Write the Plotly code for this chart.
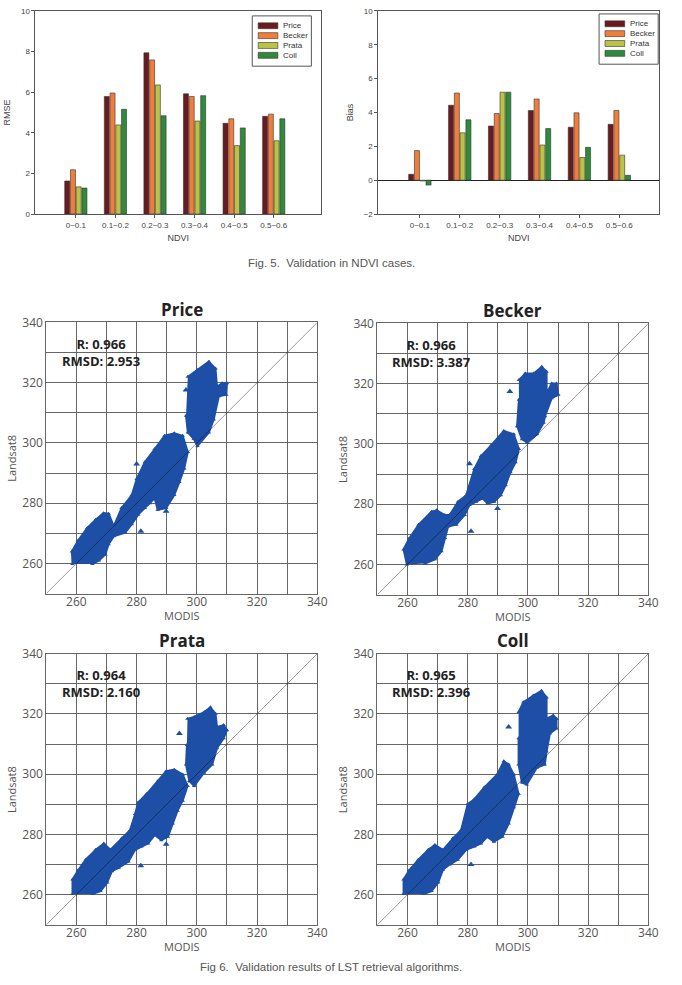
import plotly.graph_objects as go

W, H = 682, 985

# ---------------- data: Fig. 5 ----------------
ndvi_classes = ["0~0.1", "0.1~0.2", "0.2~0.3", "0.3~0.4", "0.4~0.5", "0.5~0.6"]
series_names = ["Price", "Becker", "Prata", "Coll"]
rmse_price = [1.63, 5.79, 7.94, 5.92, 4.47, 4.81]
rmse_becker = [2.18, 5.96, 7.59, 5.79, 4.69, 4.92]
rmse_prata = [1.34, 4.39, 6.36, 4.58, 3.37, 3.61]
rmse_coll = [1.28, 5.16, 4.84, 5.83, 4.24, 4.69]
bias_price = [0.35, 4.43, 3.20, 4.12, 3.13, 3.30]
bias_becker = [1.75, 5.15, 3.94, 4.80, 3.98, 4.12]
bias_prata = [-0.05, 2.80, 5.20, 2.08, 1.34, 1.48]
bias_coll = [-0.29, 3.57, 5.20, 3.05, 1.94, 0.29]

# ---------------- data: Fig. 6 (cloud outlines) ----------------
scatter_ticks = [250, 260, 270, 280, 290, 300, 310, 320, 330, 340]
scatter_ticktext = ["", "260", "", "280", "", "300", "", "320", "", "340"]

price_low_x = [258.7, 258.5, 260.5, 263.6, 266.4, 269.0, 270.7, 272.4, 275.0, 278.4, 280.0, 282.7, 286.0, 289.3, 292.5,
               295.3, 297.0, 295.8, 294.2, 292.5, 289.8, 287.0, 286.0, 284.5, 282.7, 280.5, 278.4, 276.2, 272.4, 270.7,
               269.6, 267.5, 265.3]
price_low_y = [259.8, 264.0, 267.5, 271.8, 274.5, 276.7, 276.5, 272.4, 278.4, 282.7, 288.0, 293.6, 298.0, 302.4, 303.2,
               302.4, 297.0, 291.5, 287.0, 282.7, 278.4, 277.8, 281.6, 280.0, 278.4, 276.2, 273.0, 270.2, 269.0, 266.4,
               263.0, 261.0, 259.8]
price_up_x = [297.0, 300.2, 304.0, 306.2, 306.7, 308.4, 310.0, 309.8, 307.3, 305.6, 304.0, 300.2, 299.0, 297.0, 296.4]
price_up_y = [322.0, 324.2, 327.0, 324.7, 318.7, 319.8, 319.8, 316.0, 315.5, 307.8, 303.5, 299.0, 301.3, 303.5, 309.0]
price_out_x = [296.4, 281.4, 289.8, 280.0]
price_out_y = [317.6, 270.7, 277.3, 293.0]

becker_low_x = [259.8, 258.7, 260.5, 263.7, 268.0, 269.7, 272.4, 274.0, 276.8, 279.5, 282.2, 284.4, 287.7, 292.0, 295.3,
                297.0, 295.9, 294.2, 292.6, 291.0, 288.8, 286.6, 285.0, 282.8, 280.6, 279.0, 276.2, 273.5, 272.4, 271.3,
                269.1, 265.8]
becker_low_y = [260.0, 265.0, 268.5, 273.2, 277.5, 278.0, 276.4, 276.4, 280.8, 283.0, 291.7, 296.0, 299.4, 304.3, 303.2,
                298.3, 293.9, 290.6, 286.3, 283.0, 280.8, 280.3, 281.9, 280.8, 279.7, 276.4, 273.2, 272.6, 268.8, 264.4,
                261.7, 260.3]
becker_up_x = [297.0, 299.1, 301.9, 304.6, 306.2, 306.2, 307.9, 309.5, 310.1, 307.9, 305.7, 305.2, 303.0, 299.7, 298.0,
               296.4, 297.0]
becker_up_y = [321.2, 323.4, 323.4, 325.6, 324.0, 316.8, 320.1, 320.1, 316.3, 315.2, 309.2, 307.0, 303.2, 300.5, 301.6,
               305.9, 314.7]
becker_out_x = [294.0, 289.9, 281.1, 280.6]
becker_out_y = [317.4, 278.6, 271.0, 293.4]

prata_low_x = [258.7, 258.7, 260.5, 263.1, 266.4, 269.1, 271.3, 275.1, 277.8, 279.5, 280.5, 283.3, 287.1, 289.8, 292.5,
               295.3, 296.9, 295.3, 293.6, 292.0, 290.4, 288.2, 286.0, 283.8, 281.6, 279.5, 277.3, 274.0, 271.8, 270.2,
               268.0, 265.3]
prata_low_y = [260.2, 265.0, 268.0, 271.6, 274.9, 277.0, 274.9, 278.7, 281.4, 286.8, 290.6, 293.4, 297.7, 301.0, 301.5,
               299.9, 296.1, 291.2, 287.9, 283.6, 279.2, 278.1, 279.8, 277.0, 276.0, 274.9, 271.0, 268.9, 267.8, 264.0,
               261.2, 260.2]
prata_up_x = [296.9, 299.1, 302.4, 304.5, 306.2, 306.7, 308.9, 310.0, 308.9, 306.7, 305.1, 302.4, 299.1, 297.5, 296.4,
              296.7]
prata_up_y = [318.4, 319.0, 320.6, 322.2, 320.1, 315.7, 316.3, 314.6, 311.9, 308.6, 303.2, 300.5, 296.1, 297.7, 303.2,
              309.7]
prata_out_x = [294.2, 281.4, 289.8]
prata_out_y = [313.5, 269.6, 276.7]

coll_low_x = [258.7, 258.7, 260.5, 263.6, 266.9, 269.1, 271.8, 275.1, 277.8, 280.0, 282.2, 285.5, 289.8, 292.0, 293.6,
              295.3, 296.9, 295.3, 293.6, 291.5, 288.7, 286.5, 284.4, 282.2, 279.5, 276.7, 274.0, 271.8, 270.2, 268.0,
              265.3]
coll_low_y = [260.2, 265.0, 268.0, 271.6, 274.9, 276.5, 274.9, 278.7, 281.4, 290.1, 291.7, 295.6, 299.9, 304.3, 303.2,
              299.9, 293.4, 289.0, 283.6, 279.2, 277.6, 279.2, 277.0, 276.0, 274.9, 271.6, 270.0, 268.3, 264.0, 261.2,
              260.2]
coll_up_x = [296.9, 298.5, 301.8, 304.5, 306.2, 306.2, 308.4, 309.5, 309.5, 307.3, 306.2, 305.6, 302.9, 299.6, 298.0,
             296.9, 296.9]
coll_up_y = [320.6, 323.9, 326.1, 327.7, 325.5, 318.4, 319.5, 318.4, 315.2, 313.5, 307.5, 303.2, 302.1, 296.6, 297.2,
             303.2, 311.9]
coll_out_x = [293.6, 281.1]
coll_out_y = [315.7, 270.0]

panel_titles = ["Price", "Becker", "Prata", "Coll"]
panel_r = ["0.966", "0.966", "0.964", "0.965"]
panel_rmsd = ["2.953", "3.387", "2.160", "2.396"]

# ---------------- styling ----------------
bar_colors = ["#6b1a1f", "#f07e3a", "#bcc244", "#2f8a3c"]
cloud_color = "#1e4fa6"
gray_txt = "#555555"


def xd(px0, px1):
    return [px0 / W, px1 / W]


def yd(py0, py1):
    return [1 - py1 / H, 1 - py0 / H]


def px(v):
    return v / W


def py(v):
    return 1 - v / H


fig = go.Figure()

rmse_all = [rmse_price, rmse_becker, rmse_prata, rmse_coll]
bias_all = [bias_price, bias_becker, bias_prata, bias_coll]
xpos = list(range(len(ndvi_classes)))

for i, name in enumerate(series_names):
    fig.add_trace(go.Bar(x=xpos, y=rmse_all[i], name=name, marker_color=bar_colors[i],
                         marker_line=dict(color="#333333", width=0.6), xaxis="x", yaxis="y",
                         showlegend=False, offsetgroup=str(i)))
for i, name in enumerate(series_names):
    fig.add_trace(go.Bar(x=xpos, y=bias_all[i], name=name, marker_color=bar_colors[i],
                         marker_line=dict(color="#333333", width=0.6), xaxis="x2", yaxis="y2",
                         showlegend=False, offsetgroup=str(i)))

clouds = [
    (price_low_x, price_low_y, price_up_x, price_up_y, price_out_x, price_out_y),
    (becker_low_x, becker_low_y, becker_up_x, becker_up_y, becker_out_x, becker_out_y),
    (prata_low_x, prata_low_y, prata_up_x, prata_up_y, prata_out_x, prata_out_y),
    (coll_low_x, coll_low_y, coll_up_x, coll_up_y, coll_out_x, coll_out_y),
]
for k, (lx, ly, ux, uy, ox, oy) in enumerate(clouds):
    ax = str(k + 3)
    for cx, cy in ((lx, ly), (ux, uy)):
        fig.add_trace(go.Scatter(x=cx, y=cy, fill="toself", fillcolor=cloud_color, mode="lines+markers",
                                 line=dict(color=cloud_color, width=2),
                                 marker=dict(symbol="triangle-up", size=4, color=cloud_color),
                                 xaxis="x" + ax, yaxis="y" + ax, showlegend=False, hoverinfo="skip"))
    fig.add_trace(go.Scatter(x=ox, y=oy, mode="markers",
                             marker=dict(symbol="triangle-up", size=6, color=cloud_color),
                             xaxis="x" + ax, yaxis="y" + ax, showlegend=False, hoverinfo="skip"))

layout = dict(
    width=W, height=H, margin=dict(l=0, r=0, t=0, b=0),
    paper_bgcolor="white", plot_bgcolor="white", showlegend=False,
    barmode="group", bargap=0.42, bargroupgap=0.13,
    font=dict(family="Liberation Sans, Arial", color="#333"),
)

bar_x_common = dict(tickvals=xpos, ticktext=ndvi_classes, showgrid=False, zeroline=False,
                    showline=True, mirror=True, linecolor="#555", linewidth=1,
                    ticks="outside", ticklen=3, tickcolor="#555",
                    tickfont=dict(size=8, color="#444"),
                    title=dict(text="NDVI", font=dict(size=9, color="#444"), standoff=6))
bar_y_common = dict(showgrid=False, showline=True, mirror=True, linecolor="#555", linewidth=1,
                    ticks="outside", ticklen=3, tickcolor="#555", tickfont=dict(size=8, color="#444"))

layout["xaxis"] = dict(domain=xd(36, 326), anchor="y", range=[-1.02, 6.2], **bar_x_common)
layout["yaxis"] = dict(domain=yd(2, 208), anchor="x", range=[0, 10], dtick=2, zeroline=False,
                       title=dict(text="RMSE", font=dict(size=9, color="#444"), standoff=8), **bar_y_common)
layout["xaxis2"] = dict(domain=xd(384, 669), anchor="y2", range=[-1.04, 6.0], **bar_x_common)
layout["yaxis2"] = dict(domain=yd(2, 208), anchor="x2", range=[-2, 10], dtick=2, zeroline=True,
                        zerolinecolor="#222", zerolinewidth=1,
                        title=dict(text="Bias", font=dict(size=9, color="#444"), standoff=8), **bar_y_common)

annotations = []
shapes = []

# hand-drawn legends (compact, as in the reference)
legend_boxes = [(256, 316, 7, 58, [17, 27, 37, 47]), (608, 668, 5, 56, [15, 25, 35, 45])]
for (bx0, bx1, by0, by1, rows) in legend_boxes:
    shapes.append(dict(type="rect", xref="paper", yref="paper", x0=px(bx0), x1=px(bx1), y0=py(by1), y1=py(by0),
                       line=dict(color="#555", width=1), fillcolor="white", layer="above"))
    for i, name in enumerate(series_names):
        r = rows[i]
        shapes.append(dict(type="rect", xref="paper", yref="paper", x0=px(bx0 + 6), x1=px(bx0 + 26),
                           y0=py(r + 3), y1=py(r - 3), fillcolor=bar_colors[i],
                           line=dict(color="#333", width=0.6), layer="above"))
        annotations.append(dict(text=name, x=px(bx0 + 29), y=py(r), xref="paper", yref="paper", showarrow=False,
                                xanchor="left", yanchor="middle", font=dict(size=8, color="#333")))

panels = [(47, 322, 318, 593), (383, 658, 319, 594), (47, 322, 654, 929), (383, 658, 654, 929)]
for k, (x0, x1, y0, y1) in enumerate(panels):
    n = str(k + 3)
    common = dict(range=[250, 340], tickvals=scatter_ticks, ticktext=scatter_ticktext, showgrid=True,
                  gridcolor="#666", gridwidth=1, zeroline=False, showline=True, mirror=True,
                  linecolor="#666", linewidth=1, ticks="", tickfont=dict(size=12, color=gray_txt,
                                                                           family="Open Sans"))
    layout["xaxis" + n] = dict(domain=xd(x0, x1), anchor="y" + n, ticklabelstandoff=-3, **common)
    layout["yaxis" + n] = dict(domain=yd(y0, y1), anchor="x" + n, **common)
    shapes.append(dict(type="line", xref="x" + n, yref="y" + n, x0=250, y0=250, x1=340, y1=340,
                       line=dict(color="rgba(0,0,0,0.4)", width=1), layer="above"))
    annotations.append(dict(text="<b>%s</b>" % panel_titles[k], x=px((x0 + x1) / 2), y=py(y0 - 13),
                            xref="paper", yref="paper", showarrow=False, xanchor="center", yanchor="middle",
                            font=dict(size=17, color="#222", family="Open Sans")))
    annotations.append(dict(text="<b>R: %s</b><br><b>RMSD: %s</b>" % (panel_r[k], panel_rmsd[k]),
                            x=px(x0 + 55), y=py(y0 + 30), xref="paper", yref="paper", showarrow=False,
                            xanchor="center", yanchor="middle", align="center",
                            font=dict(size=13, color="#222", family="Open Sans")))
    annotations.append(dict(text="MODIS", x=px((x0 + x1) / 2), y=py(y1 + 22), xref="paper", yref="paper",
                            showarrow=False, xanchor="center", yanchor="middle",
                            font=dict(size=11, color=gray_txt, family="Open Sans")))
    annotations.append(dict(text="Landsat8", x=px(x0 - 36), y=py((y0 + y1) / 2), xref="paper", yref="paper",
                            showarrow=False, xanchor="center", yanchor="middle", textangle=-90,
                            font=dict(size=11, color=gray_txt, family="Open Sans")))

annotations.append(dict(text="Fig. 5.  Validation in NDVI cases.", x=px(336), y=py(258), xref="paper",
                        yref="paper", showarrow=False, xanchor="center", yanchor="middle",
                        font=dict(size=11.5, color="#555", family="Liberation Sans")))
annotations.append(dict(text="Fig 6.  Validation results of LST retrieval algorithms.", x=px(336), y=py(972),
                        xref="paper", yref="paper", showarrow=False, xanchor="center", yanchor="middle",
                        font=dict(size=11.5, color="#555", family="Liberation Sans")))

layout["annotations"] = annotations
layout["shapes"] = shapes
fig.update_layout(**layout)
fig.write_html("out.html")
